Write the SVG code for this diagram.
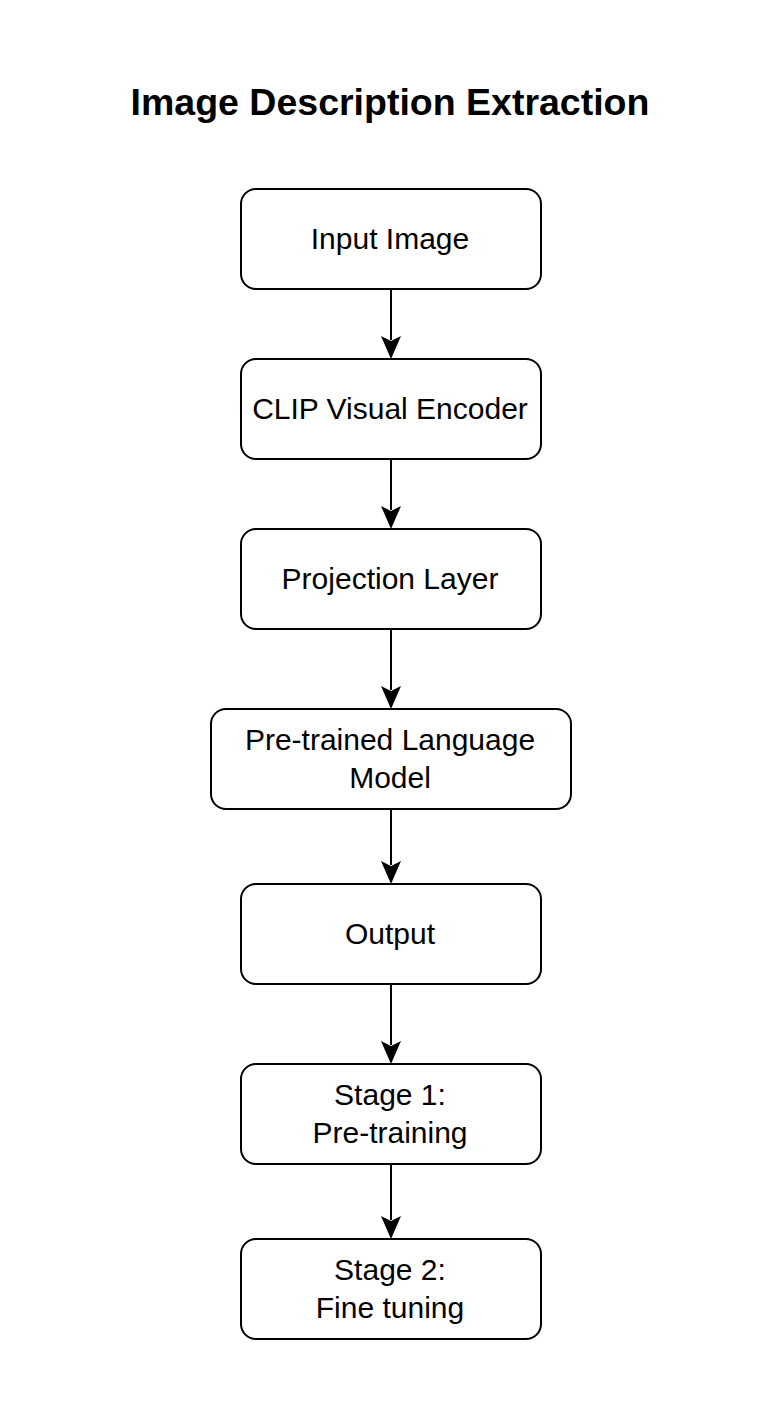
<svg xmlns="http://www.w3.org/2000/svg" width="780" height="1403" viewBox="0 0 780 1403">
<style>
.box{fill:#fff;stroke:#000;stroke-width:2}
.lbl{font-family:"Liberation Sans",Arial,sans-serif;font-size:30px;fill:#000;text-anchor:middle}
.title{font-family:"Liberation Sans",Arial,sans-serif;font-size:37.5px;font-weight:bold;fill:#000;text-anchor:middle}
.edge{stroke:#000;stroke-width:2;fill:none}
</style>
<rect width="780" height="1403" fill="#fff"/>
<text class="title" x="390" y="115">Image Description Extraction</text>
<g id="connectors">
<g class="edge">
<path d="M391 289 V340"/>
<path d="M391 459 V510"/>
<path d="M391 629 V690"/>
<path d="M391 809 V865"/>
<path d="M391 984 V1045"/>
<path d="M391 1164 V1220"/>
</g>
<g fill="#000">
<path d="M391 359 L381 336 L391 341 L401 336 Z"/>
<path d="M391 529 L381 506 L391 511 L401 506 Z"/>
<path d="M391 709 L381 686 L391 691 L401 686 Z"/>
<path d="M391 884 L381 861 L391 866 L401 861 Z"/>
<path d="M391 1064 L381 1041 L391 1046 L401 1041 Z"/>
<path d="M391 1239 L381 1216 L391 1221 L401 1216 Z"/>
</g>
</g>
<g id="input-image"><rect class="box" x="241" y="189" width="300" height="100" rx="15"/><text class="lbl" x="390" y="249">Input Image</text></g>
<g id="clip-encoder"><rect class="box" x="241" y="359" width="300" height="100" rx="15"/><text class="lbl" x="390" y="419">CLIP Visual Encoder</text></g>
<g id="projection"><rect class="box" x="241" y="529" width="300" height="100" rx="15"/><text class="lbl" x="390" y="589">Projection Layer</text></g>
<g id="language-model"><rect class="box" x="211" y="709" width="360" height="100" rx="15"/><text class="lbl" x="390" y="750">Pre-trained Language</text><text class="lbl" x="390" y="788">Model</text></g>
<g id="output"><rect class="box" x="241" y="884" width="300" height="100" rx="15"/><text class="lbl" x="390" y="944">Output</text></g>
<g id="stage1"><rect class="box" x="241" y="1064" width="300" height="100" rx="15"/><text class="lbl" x="390" y="1105">Stage 1:</text><text class="lbl" x="390" y="1143">Pre-training</text></g>
<g id="stage2"><rect class="box" x="241" y="1239" width="300" height="100" rx="15"/><text class="lbl" x="390" y="1280">Stage 2:</text><text class="lbl" x="390" y="1318">Fine tuning</text></g>
</svg>
